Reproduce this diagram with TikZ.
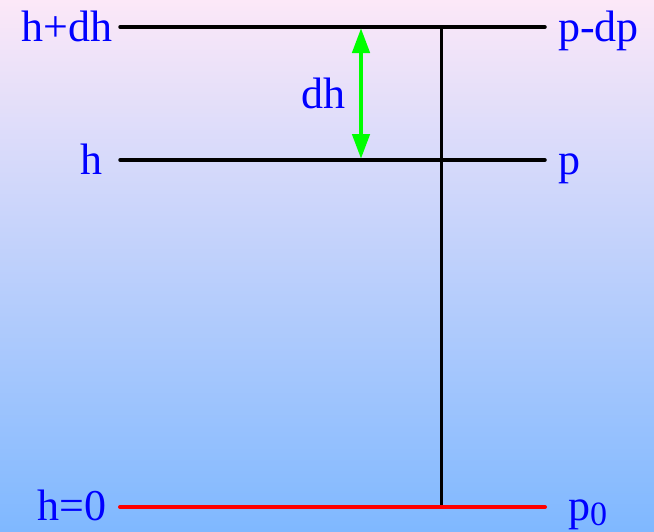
\documentclass[tikz,border=0pt]{standalone}
\usepackage{fontspec}
\setmainfont{Liberation Serif}
\usetikzlibrary{arrows.meta}
\definecolor{skytop}{RGB}{252,232,248}
\definecolor{skymid}{RGB}{190,209,239}
\definecolor{skybot}{RGB}{127,184,255}
\tikzset{
  lbl/.style={text=blue,inner sep=0pt,font=\fontsize{44}{44}\selectfont},
  level/.style={line width=3.5pt,black},
}
\begin{document}
\begin{tikzpicture}[x=1pt,y=-1pt,line cap=round,line join=round]
  \useasboundingbox (0,0) rectangle (654,531);
  \shade[top color=skytop,middle color=skymid,bottom color=skybot] (0,0) rectangle (654,531);
  % levels
  \coordinate (tl) at (120,27);
  \coordinate (tr) at (545,27);
  \coordinate (ml) at (120,160);
  \coordinate (mr) at (545,160);
  \coordinate (bl) at (120,507);
  \coordinate (br) at (545,507);
  \coordinate (vt) at (441,27);
  \coordinate (vb) at (441,507);
  \coordinate (at) at (361,28);
  \coordinate (ab) at (361,159);
  \draw[level] (tl) -- (tr);
  \draw[level] (ml) -- (mr);
  \draw[line width=3pt] (vt) -- (vb);
  \draw[line width=4pt,red] (bl) -- (br);
  \draw[line width=4.5pt,green,line cap=butt,{Triangle[length=25pt,width=17pt]}-{Triangle[length=25pt,width=17pt]}] (at) -- (ab);
  % labels
  \node[lbl,anchor=base east] (hdh) at (113,41) {h+dh};
  \node[lbl,anchor=base east] (hh) at (103,174) {h};
  \node[lbl,anchor=base east] (hz) at (107,520) {h=0};
  \node[lbl,anchor=base west] (pdp) at (558,41) {p-dp};
  \node[lbl,anchor=base west] (pp) at (558,174) {p};
  \node[lbl,anchor=base west] (pz) at (568,520) {p\raisebox{-0.12em}{\fontsize{34}{34}\selectfont 0}};
  \node[lbl,anchor=base] (dh) at (323,108) {dh};
\end{tikzpicture}
\end{document}
